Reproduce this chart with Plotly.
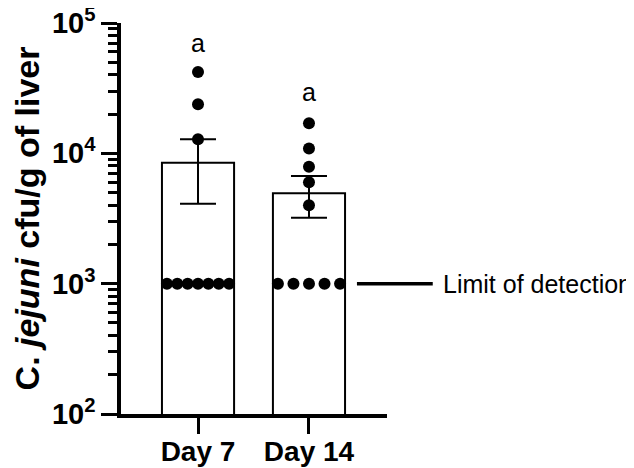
import math
import numpy as np
import plotly.graph_objects as go

# ---- data ----
categories = ["Day 7", "Day 14"]
bar_means = [8450, 4950]
bar_sem = [4350, 1750]
day7_values = [42000, 23800, 12800, 1000, 1000, 1000, 1000, 1000, 1000, 1000]
day14_values = [17000, 10900, 7900, 6000, 4000, 1000, 1000, 1000, 1000, 1000]
group_values = [day7_values, day14_values]
sig_letters = ["a", "a"]
sig_letter_y = [70000, 29500]
limit_of_detection = 1000
y_tickvals = [100, 1000, 10000, 100000]
y_ticktext = ["10<sup>2</sup>", "10<sup>3</sup>", "10<sup>4</sup>", "10<sup>5</sup>"]

FONT = "Liberation Sans, Arial, sans-serif"
xpos = list(range(len(categories)))

fig = go.Figure()
fig.add_trace(go.Bar(
    x=xpos, y=bar_means, width=0.65,
    marker=dict(color="white", line=dict(color="black", width=2)),
    error_y=dict(type="data", array=bar_sem, visible=True, color="black",
                 thickness=2, width=18),
    showlegend=False,
))

# dots: repeated values are spread across the bar
spread = 0.28
for i, vals in enumerate(group_values):
    xs, ys = [], []
    uniq = {}
    for v in vals:
        uniq.setdefault(v, 0)
        uniq[v] += 1
    for v, n in uniq.items():
        offs = np.linspace(-spread, spread, n) if n > 1 else [0.0]
        for o in offs:
            xs.append(xpos[i] + o)
            ys.append(v)
    fig.add_trace(go.Scatter(
        x=xs, y=ys, mode="markers",
        marker=dict(color="black", size=12),
        cliponaxis=False, showlegend=False,
    ))

for i, (txt, yv) in enumerate(zip(sig_letters, sig_letter_y)):
    fig.add_annotation(x=xpos[i], y=math.log10(yv), xref="x", yref="y",
                       text=txt, showarrow=False,
                       font=dict(family=FONT, size=25, color="black"))

# limit of detection marker outside plot
fig.add_shape(type="line", xref="paper", yref="y",
              x0=0.887, x1=1.172, y0=limit_of_detection, y1=limit_of_detection,
              line=dict(color="black", width=3.5))
fig.add_annotation(xref="paper", yref="y", x=1.203, y=math.log10(limit_of_detection),
                   text="Limit of detection", showarrow=False, xanchor="left",
                   font=dict(family=FONT, size=25, color="black"))

minor_vals = [k * 10 ** d for d in range(2, 5) for k in range(2, 10)]

fig.update_layout(
    width=626, height=460,
    margin=dict(l=113, r=247, t=15, b=54),
    paper_bgcolor="white", plot_bgcolor="white",
    font=dict(family=FONT, color="black"),
    bargap=0.3,
    xaxis=dict(
        automargin=False, ticklabeloverflow="allow", ticklabelstandoff=-6,
        range=[-0.694, 1.703], tickvals=xpos, ticktext=categories,
        showline=True, linecolor="black", linewidth=3.5,
        ticks="outside", ticklen=16, tickwidth=3, tickcolor="black",
        tickfont=dict(family=FONT, size=28, color="black", weight="bold"),
        showgrid=False, zeroline=False,
    ),
    yaxis=dict(
        automargin=False, ticklabeloverflow="allow",
        type="log", range=[2, 5],
        tickvals=y_tickvals, ticktext=y_ticktext,
        showline=True, linecolor="black", linewidth=3.5,
        ticks="outside", ticklen=16, tickwidth=3, tickcolor="black",
        minor=dict(tickvals=minor_vals, ticks="outside", ticklen=9,
                   tickwidth=2.5, tickcolor="black", showgrid=False),
        tickfont=dict(family=FONT, size=29, color="black", weight="bold"),
        showgrid=False, zeroline=False,
        title=dict(text="C. <i>jejuni</i> cfu/g of liver", standoff=7,
                   font=dict(family=FONT, size=34, color="black", weight="bold")),
    ),
)

fig.write_html("out.html")
